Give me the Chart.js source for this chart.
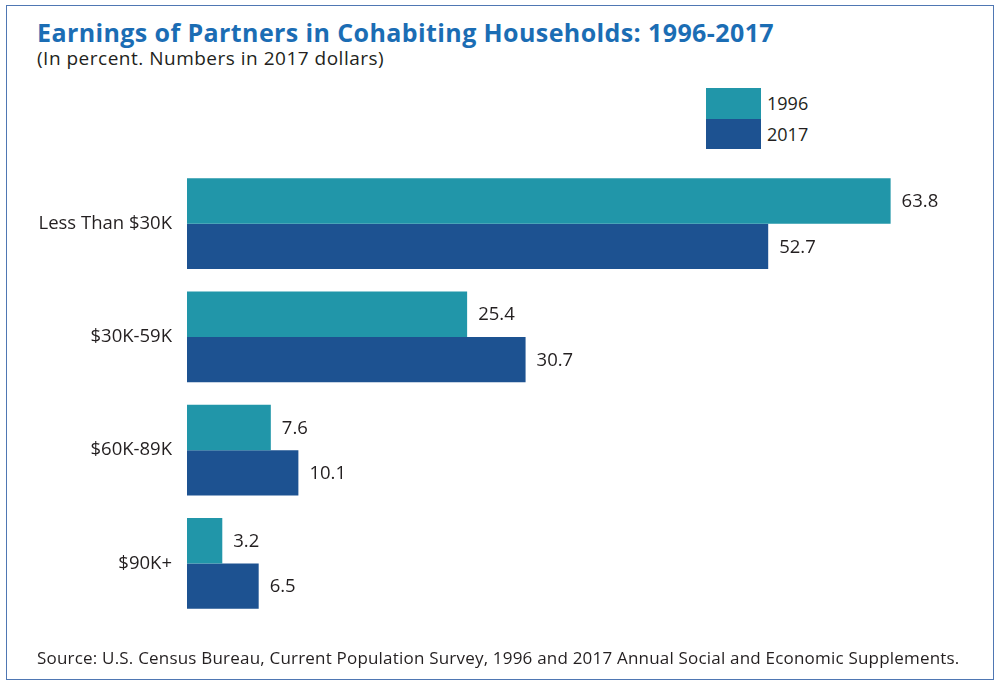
<!DOCTYPE html>
<html>
<head>
<meta charset="utf-8">
<script src="https://cdn.jsdelivr.net/npm/chart.js@4"></script>
<style>
  html, body { margin: 0; padding: 0; background: #fff; }
  body { width: 1000px; height: 689px; position: relative; overflow: hidden; font-family: "Open Sans", sans-serif; color: #231f20; }
  .frame { position: absolute; left: 6px; top: 5px; width: 988px; height: 675px; border: 1.5px solid #4f77b3; box-sizing: border-box; }
  .title { position: absolute; left: 37px; top: 15px; font-size: 25px; letter-spacing: 0.4px; font-weight: 700; color: #1b6db4; white-space: nowrap; }
  .subtitle { position: absolute; left: 37px; top: 45px; font-size: 19px; letter-spacing: 0.5px; white-space: nowrap; }
  .source { position: absolute; left: 37px; top: 646px; font-size: 17px; letter-spacing: 0.2px; white-space: nowrap; }
  .legend { position: absolute; left: 706px; top: 88px; }
  .legend-row { display: flex; align-items: center; height: 30.5px; }
  .legend-box { width: 55px; height: 30.5px; }
  .legend-text { margin-left: 6px; font-size: 18px; }
  #wrap { position: absolute; left: 0; top: 0; width: 1000px; height: 689px; }
</style>
</head>
<body>
<div class="frame"></div>
<div class="title">Earnings of Partners in Cohabiting Households: 1996-2017</div>
<div class="subtitle">(In percent. Numbers in 2017 dollars)</div>
<div class="legend" id="legend"></div>
<div id="wrap"><canvas id="chart"></canvas></div>
<div class="source">Source: U.S. Census Bureau, Current Population Survey, 1996 and 2017 Annual Social and Economic Supplements.</div>
<script>
const categories = ['Less Than $30K', '$30K-59K', '$60K-89K', '$90K+'];
const seriesNames = ['1996', '2017'];
const values1996 = [63.8, 25.4, 7.6, 3.2];
const values2017 = [52.7, 30.7, 10.1, 6.5];
const seriesColors = ['#2196a9', '#1d5291'];

// legend built from the same series names / colours
const legendEl = document.getElementById('legend');
seriesNames.forEach((name, i) => {
  const row = document.createElement('div');
  row.className = 'legend-row';
  row.innerHTML = '<div class="legend-box" style="background:' + seriesColors[i] + '"></div><div class="legend-text">' + name + '</div>';
  legendEl.appendChild(row);
});

// value labels at the end of each bar
const barValueLabels = {
  id: 'barValueLabels',
  afterDatasetsDraw(chart) {
    const ctx = chart.ctx;
    ctx.save();
    ctx.font = '18.5px "Open Sans"';
    ctx.fillStyle = '#231f20';
    ctx.textAlign = 'left';
    ctx.textBaseline = 'middle';
    chart.data.datasets.forEach((ds, di) => {
      chart.getDatasetMeta(di).data.forEach((bar, i) => {
        ctx.fillText(ds.data[i].toFixed(1), bar.x + 11, bar.y + 1);
      });
    });
    ctx.restore();
  }
};

new Chart(document.getElementById('chart'), {
  type: 'bar',
  data: {
    labels: categories,
    datasets: [
      { label: seriesNames[0], data: values1996, backgroundColor: seriesColors[0] },
      { label: seriesNames[1], data: values2017, backgroundColor: seriesColors[1] }
    ]
  },
  options: {
    indexAxis: 'y',
    responsive: true,
    maintainAspectRatio: false,
    animation: false,
    layout: { padding: { top: 167, bottom: 69, left: 0, right: 41 } },
    datasets: { bar: { categoryPercentage: 0.8, barPercentage: 1.0 } },
    plugins: {
      legend: { display: false },
      tooltip: { enabled: false }
    },
    scales: {
      x: { display: false, min: 0, max: 70 },
      y: {
        grid: { display: false, drawTicks: false },
        border: { display: false },
        afterFit(scale) { scale.width = 187; },
        ticks: {
          padding: 15,
          color: '#231f20',
          font: { family: 'Open Sans', size: 18.5 }
        }
      }
    }
  },
  plugins: [barValueLabels]
});
</script>
</body>
</html>
